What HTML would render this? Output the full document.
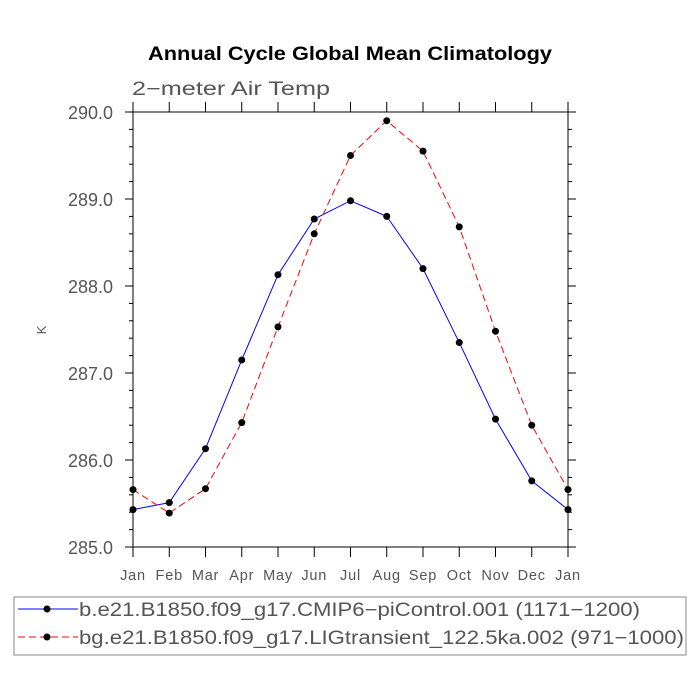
<!DOCTYPE html>
<html><head><meta charset="utf-8"><style>
body{margin:0;background:#fff}
svg{display:block;font-family:"Liberation Sans",sans-serif}
</style></head><body>
<svg id="chart" width="700" height="700" viewBox="0 0 700 700" xmlns="http://www.w3.org/2000/svg">
<text x="148" y="60" font-size="19" font-weight="bold" fill="#000" textLength="404" lengthAdjust="spacingAndGlyphs">Annual Cycle Global Mean Climatology</text>
<text x="132" y="95" font-size="19" fill="#555" textLength="198" lengthAdjust="spacingAndGlyphs">2−meter Air Temp</text>
<text transform="translate(46,330) rotate(-90)" text-anchor="middle" font-size="13" fill="#555">K</text>
<g id="axes"></g>
<g id="series"></g>
<rect x="14" y="597" width="672" height="58" fill="none" stroke="#888" stroke-width="1"/>
<g>
<line x1="18" y1="609" x2="78" y2="609" stroke="#00f" stroke-width="1"/><circle cx="47" cy="609" r="3.5" fill="#000"/>
<text x="79" y="616" font-size="19" fill="#555" textLength="561" lengthAdjust="spacingAndGlyphs">b.e21.B1850.f09_g17.CMIP6−piControl.001 (1171−1200)</text></g>
<g>
<line x1="18" y1="637" x2="78" y2="637" stroke="#f00" stroke-width="1" stroke-dasharray="7,4"/><circle cx="47" cy="637" r="3.5" fill="#000"/>
<text x="79" y="644" font-size="19" fill="#555" textLength="605" lengthAdjust="spacingAndGlyphs">bg.e21.B1850.f09_g17.LIGtransient_122.5ka.002 (971−1000)</text></g>
</svg>
<script>
const months=["Jan","Feb","Mar","Apr","May","Jun","Jul","Aug","Sep","Oct","Nov","Dec","Jan"];
const yTicks=["285.0","286.0","287.0","288.0","289.0","290.0"];
const piControl=[285.43,285.51,286.13,287.15,288.13,288.77,288.98,288.80,288.20,287.35,286.47,285.76,285.43];
const ligTransient=[285.66,285.39,285.67,286.43,287.53,288.60,289.50,289.90,289.55,288.68,287.48,286.40,285.66];
const NS="http://www.w3.org/2000/svg";
const L=133,R=568,T=112,B=547,ymin=285,ymax=290;
const xs=i=>L+(R-L)*i/(months.length-1);
const ys=v=>B-(v-ymin)/(ymax-ymin)*(B-T);
function mk(tag,attrs,parent){const e=document.createElementNS(NS,tag);for(const k in attrs)e.setAttribute(k,attrs[k]);parent.appendChild(e);return e;}
const ax=document.getElementById('axes');
const frame=mk('rect',{x:L,y:T,width:R-L,height:B-T,fill:'none',stroke:'#000','stroke-width':1},ax);


months.forEach((m,i)=>{const x=xs(i);
 mk('line',{x1:x,y1:B,x2:x,y2:B+10,stroke:'#000'},ax);
 mk('line',{x1:x,y1:T,x2:x,y2:T-10,stroke:'#000'},ax);
 const t=mk('text',{x:x,y:B+33,'text-anchor':'middle','font-size':14.5,fill:'#555','letter-spacing':0.8},ax);t.textContent=m;
 
 
});
for(let k=0;k<=25;k++){const v=ymin+k*0.2,y=ys(v),maj=k%5==0;
 mk('line',{x1:L,y1:y,x2:L-(maj?8:4),y2:y,stroke:'#000'},ax);
 mk('line',{x1:R,y1:y,x2:R+(maj?8:4),y2:y,stroke:'#000'},ax);
}
yTicks.forEach(s=>{const y=ys(parseFloat(s));
 const t=mk('text',{x:L-20,y:y+7,'text-anchor':'end','font-size':18,fill:'#555',textLength:45,lengthAdjust:'spacingAndGlyphs'},ax);t.textContent=s;
 
 
});
const sg=document.getElementById('series');
function series(vals,color,dash,name){
 const g=mk('g',{},sg);
 
 
 mk('polyline',{points:vals.map((v,i)=>xs(i)+','+ys(v)).join(' '),fill:'none',stroke:color,'stroke-width':1,'stroke-dasharray':dash},g);
 vals.forEach((v,i)=>{const c=mk('circle',{cx:xs(i),cy:ys(v),r:3.5,fill:'#000'},g);
  
  });
}
series(piControl,'#00f','none','picontrol-series');
series(ligTransient,'#f00','7,4','ligtransient-series');
</script>
</body></html>
